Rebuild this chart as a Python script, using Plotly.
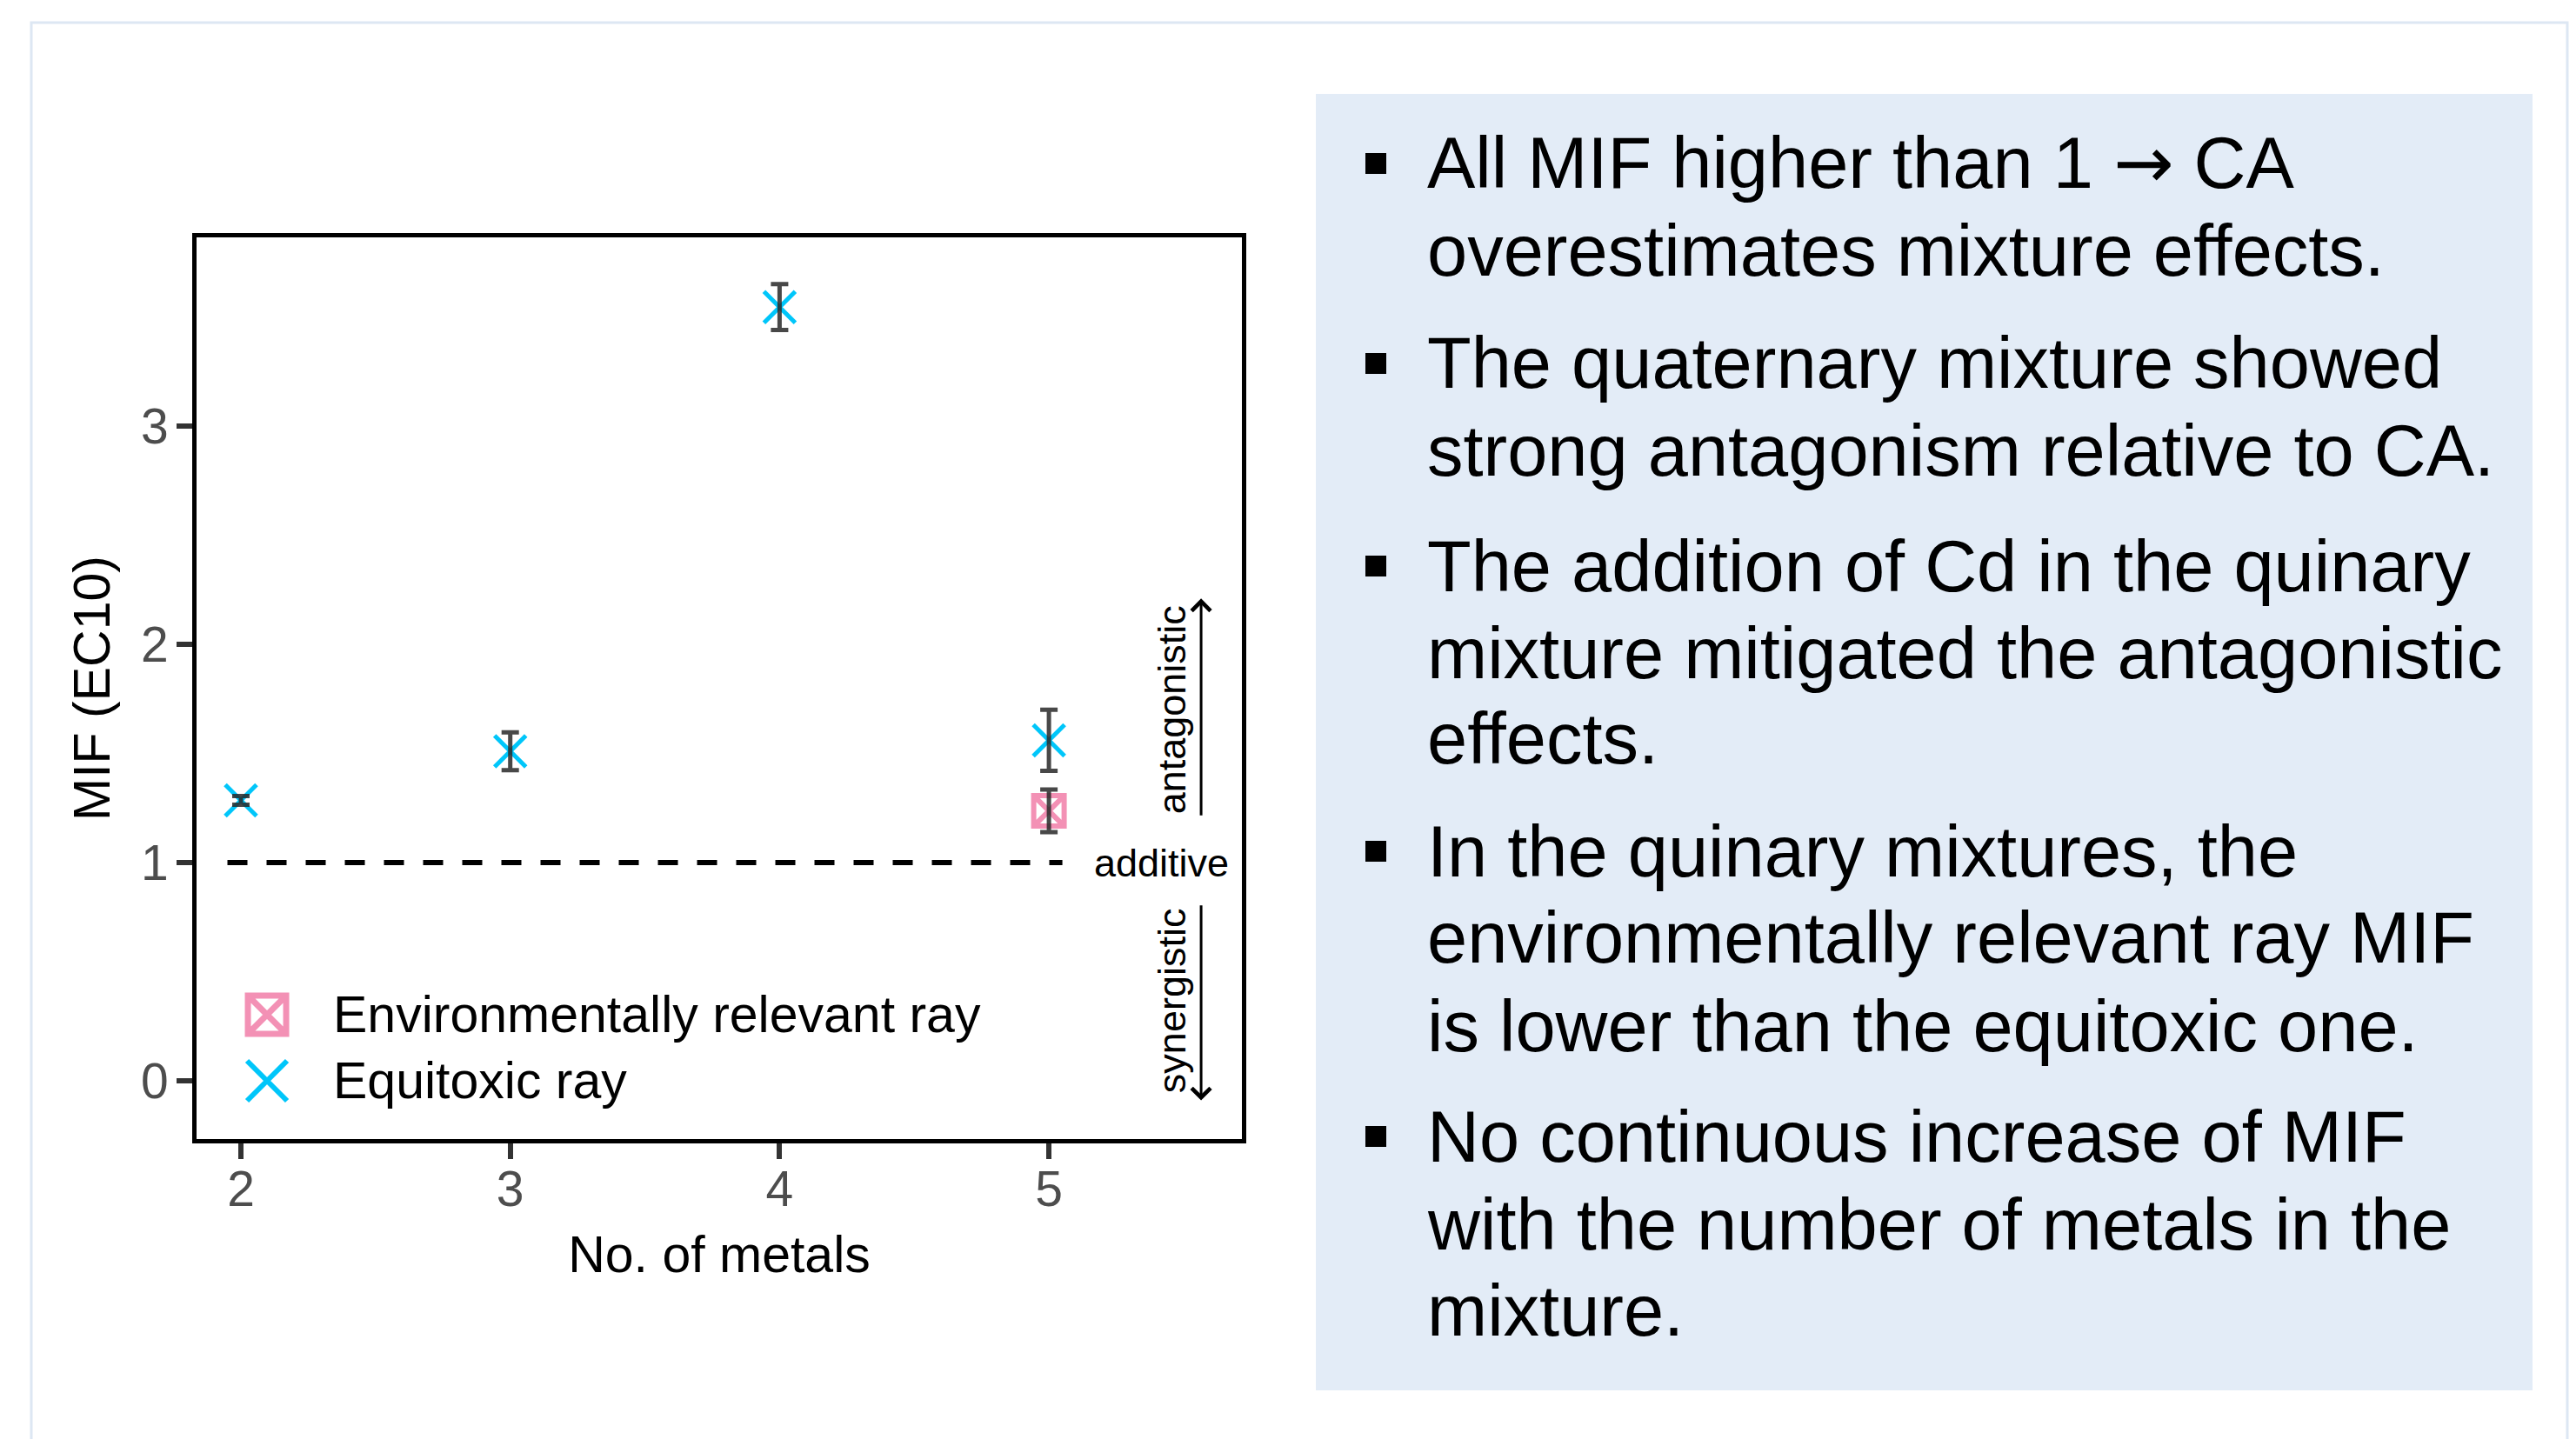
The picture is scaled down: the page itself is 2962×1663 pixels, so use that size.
import plotly.graph_objects as go

# ---------------- data ----------------
n_metals = [2, 3, 4, 5]
mif_equitoxic = [1.285, 1.51, 3.545, 1.56]
err_equitoxic = [0.02, 0.087, 0.105, 0.14]

n_metals_env = [5]
mif_env = [1.237]
err_env = [0.098]

additive_x = [1.95, 5.05]
additive_y = [1, 1]

x_ticks = [2, 3, 4, 5]
y_ticks = [0, 1, 2, 3]

legend_labels = ["Environmentally relevant ray", "Equitoxic ray"]

ARROW = "<span style=\"font-family:'DejaVu Sans'\">\u2192</span>"
bullets = [
    ["All MIF higher than 1 " + ARROW + " CA", "overestimates mixture effects."],
    ["The quaternary mixture showed", "strong antagonism relative to CA."],
    ["The addition of Cd in the quinary", "mixture mitigated the antagonistic", "effects."],
    ["In the quinary mixtures, the", "environmentally relevant ray MIF", "is lower than the equitoxic one."],
    ["No continuous increase of MIF", "with the number of metals in the", "mixture."],
]
bullet_line_y = [[188, 288], [418, 518], [651, 751, 849], [979, 1078, 1180], [1307, 1408, 1507]]

# ---------------- styles / layout ----------------
OFF = 8  # default page body margin
W, H = 2962 - 2 * OFF, 1663 - 2 * OFF
# plot area in page pixels (axis lines are drawn just outside)
PL, PR, PT, PB = 226, 1428, 273, 1310
# pixel mapping of the data scale
X2_PX, X_PER = 277.0, 309.7
Y0_PX, Y_PER = 1243.0, 251.0
X_RANGE = [2 + (PL - X2_PX) / X_PER, 2 + (PR - X2_PX) / X_PER]
Y_RANGE = [(Y0_PX - PB) / Y_PER, (Y0_PX - PT) / Y_PER]

FONT = "Liberation Sans"
CYAN = "#00C6FA"
PINK = "#F391B5"
ERR = "rgba(40,40,40,0.85)"
PANEL = "#E3ECF7"


def px(xp):
    return (xp - PL) / (PR - PL)


def py(yp):
    return (PB - yp) / (PB - PT)


fig = go.Figure()

# additive reference line
fig.add_trace(go.Scatter(x=additive_x, y=additive_y, mode="lines",
                         line=dict(color="black", width=6, dash="23px,22px"),
                         showlegend=False, hoverinfo="skip"))

# markers
fig.add_trace(go.Scatter(x=n_metals_env, y=mif_env, mode="markers",
                         marker=dict(symbol="square-x-open", size=35, color=PINK,
                                     line=dict(width=6, color=PINK)),
                         name=legend_labels[0], showlegend=False))
fig.add_trace(go.Scatter(x=n_metals, y=mif_equitoxic, mode="markers",
                         marker=dict(symbol="x-thin", size=36, color=CYAN,
                                     line=dict(width=5, color=CYAN)),
                         name=legend_labels[1], showlegend=False))

# error bars on top
for xs, ys, es in [(n_metals_env, mif_env, err_env), (n_metals, mif_equitoxic, err_equitoxic)]:
    fig.add_trace(go.Scatter(x=xs, y=ys, mode="markers",
                             marker=dict(size=2, color="rgba(0,0,0,0)"),
                             error_y=dict(type="data", array=es, visible=True,
                                          color=ERR, thickness=5, width=10),
                             showlegend=False, hoverinfo="skip"))

# manual legend keys (bigger than plotly legend allows)
LEG_X = 2.097
LEG_ROWS = [0.303, 0.0]
LEG_TEXT_X = 2.336
fig.add_trace(go.Scatter(x=[LEG_X], y=[LEG_ROWS[0]], mode="markers",
                         marker=dict(symbol="square-x-open", size=44, color=PINK,
                                     line=dict(width=7, color=PINK)),
                         showlegend=False, hoverinfo="skip"))
fig.add_trace(go.Scatter(x=[LEG_X], y=[LEG_ROWS[1]], mode="markers",
                         marker=dict(symbol="x-thin", size=46, color=CYAN,
                                     line=dict(width=6, color=CYAN)),
                         showlegend=False, hoverinfo="skip"))

ann = []
for lbl, yy in zip(legend_labels, LEG_ROWS):
    ann.append(dict(x=LEG_TEXT_X, y=yy, xref="x", yref="y", text=lbl, showarrow=False,
                    xanchor="left", yanchor="middle",
                    font=dict(family=FONT, size=59, color="black")))

# in-plot annotations
ann.append(dict(x=5.419, y=1, xref="x", yref="y", text="additive", showarrow=False,
                xanchor="center", yanchor="middle", font=dict(family=FONT, size=45, color="black")))
ann.append(dict(x=5.455, y=1.70, xref="x", yref="y", text="antagonistic", showarrow=False,
                textangle=-90, xanchor="center", yanchor="middle",
                font=dict(family=FONT, size=45, color="black")))
ann.append(dict(x=5.455, y=0.366, xref="x", yref="y", text="synergistic", showarrow=False,
                textangle=-90, xanchor="center", yanchor="middle",
                font=dict(family=FONT, size=45, color="black")))
ann.append(dict(x=5.565, y=2.21, ax=5.565, ay=1.21, xref="x", yref="y", axref="x", ayref="y",
                text="", showarrow=True, arrowhead=4, arrowsize=1.4, arrowwidth=3, arrowcolor="black"))
ann.append(dict(x=5.565, y=-0.09, ax=5.565, ay=0.81, xref="x", yref="y", axref="x", ayref="y",
                text="", showarrow=True, arrowhead=4, arrowsize=1.4, arrowwidth=3, arrowcolor="black"))

shapes = []
# outer slide frame
shapes.append(dict(type="rect", xref="paper", yref="paper", x0=px(36), x1=px(2952),
                   y0=py(1720), y1=py(26), line=dict(color="#DDE7F3", width=3),
                   fillcolor="rgba(0,0,0,0)", layer="below"))
# text panel
shapes.append(dict(type="rect", xref="paper", yref="paper", x0=px(1513), x1=px(2912),
                   y0=py(1599), y1=py(108), line=dict(width=0), fillcolor=PANEL, layer="below"))

TEXT_X = 1639
for para, ys in zip(bullets, bullet_line_y):
    cy = ys[0]
    shapes.append(dict(type="rect", xref="paper", yref="paper", x0=px(1570), x1=px(1594),
                       y0=py(cy + 12), y1=py(cy - 12), line=dict(width=0), fillcolor="black"))
    for line, yy in zip(para, ys):
        ann.append(dict(x=px(TEXT_X), y=py(yy), xref="paper", yref="paper", text=line,
                        showarrow=False, xanchor="left", yanchor="middle",
                        font=dict(family=FONT, size=83, color="black")))

axis_common = dict(showgrid=False, zeroline=False, showline=True, mirror=True,
                   linecolor="black", linewidth=5, ticks="outside", ticklen=18,
                   tickwidth=6, tickcolor="#333333",
                   tickfont=dict(family=FONT, size=57, color="#4D4D4D"))

fig.update_layout(
    width=W, height=H,
    margin=dict(l=PL - OFF, r=W - (PR - OFF), t=PT - OFF, b=H - (PB - OFF), pad=0),
    paper_bgcolor="white", plot_bgcolor="white",
    showlegend=False,
    xaxis=dict(range=X_RANGE, tickvals=x_ticks, ticklabelstandoff=-14,
               title=dict(text="No. of metals", font=dict(family=FONT, size=59, color="black"),
                          standoff=25),
               **axis_common),
    yaxis=dict(range=Y_RANGE, tickvals=y_ticks, ticklabelstandoff=-2,
               title=dict(text="MIF (EC10)", font=dict(family=FONT, size=59, color="black"),
                          standoff=18),
               **axis_common),
    annotations=ann,
    shapes=shapes,
)

fig.write_html("out.html")
